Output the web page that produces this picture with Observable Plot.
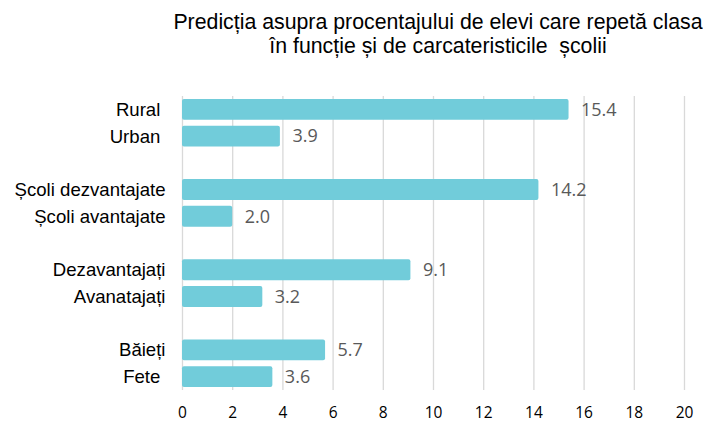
<!DOCTYPE html>
<html>
<head>
<meta charset="utf-8">
<script src="https://cdn.jsdelivr.net/npm/d3@7"></script>
<script src="https://cdn.jsdelivr.net/npm/@observablehq/plot@0.6"></script>
<style>
  html, body { margin: 0; padding: 0; background: #fff; }
  #title {
    margin-left: 173px; width: 530px; height: 70px; box-sizing: border-box;
    padding-top: 10px;
    text-align: center; white-space: nowrap;
    font-family: "Liberation Sans", Arial, sans-serif; font-size: 21.3px; line-height: 24px; color: #000;
  }
  #chart svg { display: block; }
</style>
</head>
<body>
<div id="title">Predicția asupra procentajului de elevi care repetă clasa<br>în funcție și de carcateristicile&nbsp; școlii</div>
<div id="chart"></div>
<script>
const categories = ["Rural", "Urban", "Școli dezvantajate", "Școli avantajate", "Dezavantajați", "Avanatajați", "Băieți", "Fete"];
const tickLabels = ["Rural\u00a0", "Urban\u00a0", "Școli dezvantajate", "Școli avantajate", "Dezavantajați", "Avanatajați", "Băieți", "Fete\u00a0"];
const values = [15.4, 3.9, 14.2, 2.0, 9.1, 3.2, 5.7, 3.6];
const rowOrder = ["Rural", "Urban", "gap1", "Școli dezvantajate", "Școli avantajate", "gap2", "Dezavantajați", "Avanatajați", "gap3", "Băieți", "Fete"];
const xTicks = [0, 2, 4, 6, 8, 10, 12, 14, 16, 18, 20];

const data = categories.map((c, i) => ({category: c, value: values[i]}));
const labelOf = new Map(categories.map((c, i) => [c, tickLabels[i]]));

const chart = Plot.plot({
  width: 703,
  height: 353,
  marginTop: 26,
  marginBottom: 33,
  marginLeft: 182,
  marginRight: 19,
  x: {domain: [0, 20], ticks: xTicks},
  y: {domain: rowOrder, paddingInner: 0.22, paddingOuter: 0.11, round: false},
  marks: [
    Plot.ruleX(xTicks, {stroke: "#d9d9d9", strokeWidth: 1.3}),
    Plot.barX(data, {x: "value", y: "category", fill: "#71ccda", rx: 2}),
    Plot.text(data, {x: "value", y: "category", text: d => d.value.toFixed(1), textAnchor: "start", dx: 12, fill: "#595959", fontSize: 18, fontFamily: "Open Sans"}),
    Plot.axisY({ticks: categories, tickFormat: d => labelOf.get(d), tickSize: 0, tickPadding: 17, label: null, fontSize: 18.6, fontFamily: "Liberation Sans", fill: "#000"}),
    Plot.axisX({ticks: xTicks, tickSize: 0, tickPadding: 16, label: null, fontSize: 15.5, fontFamily: "Open Sans", fill: "#000"})
  ]
});
document.getElementById("chart").appendChild(chart);
</script>
</body>
</html>
